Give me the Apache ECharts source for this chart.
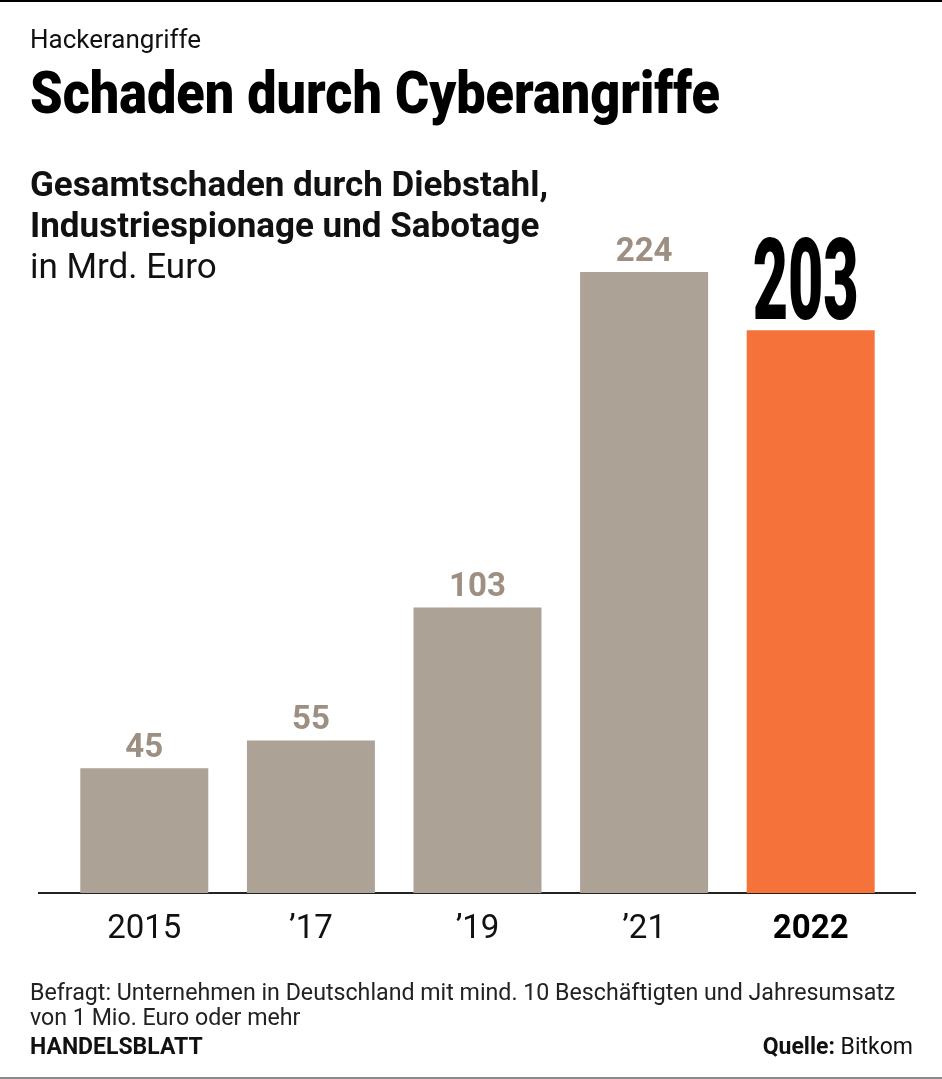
<!DOCTYPE html>
<html><head><meta charset="utf-8">
<style>html,body{margin:0;padding:0;background:#fff}#c{width:942px;height:1079px}</style>
<script src="https://cdn.jsdelivr.net/npm/echarts@6/dist/echarts.min.js"></script>
</head><body><div id="c"></div>
<script>
const categories = ['2015', '’17', '’19', '’21', '2022'];
const values = [45, 55, 103, 224, 203];
const highlightIndex = 4;
const kicker = 'Hackerangriffe';
const title = 'Schaden durch Cyberangriffe';
const subtitle1 = 'Gesamtschaden durch Diebstahl,';
const subtitle2 = 'Industriespionage und Sabotage';
const unit = 'in Mrd. Euro';
const note1 = 'Befragt: Unternehmen in Deutschland mit mind. 10 Beschäftigten und Jahresumsatz';
const note2 = 'von 1 Mio. Euro oder mehr';
const brand = 'HANDELSBLATT';
const sourceLabel = 'Quelle:';
const sourceName = 'Bitkom';

const GRAY = '#ada296', ORANGE = '#f5733a', LABEL = '#9d8f81';
const SANS = 'Roboto, "Noto Sans", sans-serif';

function measure(text, font) {
  const c = document.createElement('canvas').getContext('2d');
  c.font = font; return c.measureText(text).width;
}

const chart = echarts.init(document.getElementById('c'), null, {renderer: 'canvas'});
chart.setOption({
  animation: false,
  grid: {left: 61, right: 48, top: 200, bottom: 186},
  xAxis: {
    type: 'category', data: categories,
    axisLine: {show: false}, axisTick: {show: false},
    axisLabel: {
      margin: 20, fontFamily: SANS, fontSize: 33, color: '#111',
      formatter: (v, i) => i === highlightIndex ? '{b|' + v + '}' : v,
      rich: {b: {fontFamily: SANS, fontSize: 33, fontWeight: 'bold', color: '#000'}}
    }
  },
  yAxis: {type: 'value', min: 0, max: 250, show: false, splitLine: {show: false}},
  series: [{
    type: 'bar', barWidth: 128,
    data: values.map((v, i) => ({
      value: v,
      itemStyle: {color: i === highlightIndex ? ORANGE : GRAY},
      label: {show: i !== highlightIndex}
    })),
    label: {position: 'top', distance: 3, fontFamily: SANS, fontSize: 33, fontWeight: 'bold', color: LABEL}
  }]
});

// derived pixel positions via the chart's scales
const base = chart.convertToPixel({xAxisIndex: 0, yAxisIndex: 0}, [0, 0]);
const hl = chart.convertToPixel({xAxisIndex: 0, yAxisIndex: 0}, [highlightIndex, values[highlightIndex]]);

const titleFont = '900 59px Roboto';
const titleScale = 690 / measure(title, titleFont);
const bigFont = '900 114px Roboto';
const bigScale = 106 / measure(String(values[highlightIndex]), bigFont);

chart.setOption({
  graphic: [
    {type: 'rect', shape: {x: 0, y: 0, width: 942, height: 2}, style: {fill: '#000'}},
    {type: 'rect', shape: {x: 0, y: 1077, width: 942, height: 2}, style: {fill: '#8a8a8a'}},
    {type: 'line', shape: {x1: 38, y1: base[1], x2: 916, y2: base[1]}, style: {stroke: '#222', lineWidth: 2}},
    {type: 'text', x: 30, y: 28, style: {text: kicker, font: '400 26px Roboto', fill: '#111'}},
    {type: 'text', x: 30, y: 69, scaleX: titleScale, style: {text: title, font: titleFont, fill: '#000'}},
    {type: 'text', x: 30, y: 170, style: {text: subtitle1, font: 'bold 35px Roboto', fill: '#111'}},
    {type: 'text', x: 30, y: 211, style: {text: subtitle2, font: 'bold 35px Roboto', fill: '#111'}},
    {type: 'text', x: 30, y: 252, style: {text: unit, font: '400 35px Roboto', fill: '#111'}},
    {type: 'text', x: hl[0] - 5, y: hl[1] + 17, scaleX: bigScale,
      style: {text: String(values[highlightIndex]), font: bigFont, fill: '#000', align: 'center', verticalAlign: 'bottom'}},
    {type: 'text', x: 30, y: 983, style: {text: note1, font: '400 23.2px Roboto', fill: '#222'}},
    {type: 'text', x: 30, y: 1008, style: {text: note2, font: '400 23.2px Roboto', fill: '#222'}},
    {type: 'text', x: 30, y: 1037, style: {text: brand, font: 'bold 23px Roboto', fill: '#111'}},
    {type: 'text', x: 913, y: 1037, style: {
      text: '{b|' + sourceLabel + '} ' + sourceName, font: '400 23px Roboto', fill: '#111', align: 'right',
      rich: {b: {font: 'bold 23px Roboto', fill: '#111'}}}}
  ]
});
</script></body></html>
